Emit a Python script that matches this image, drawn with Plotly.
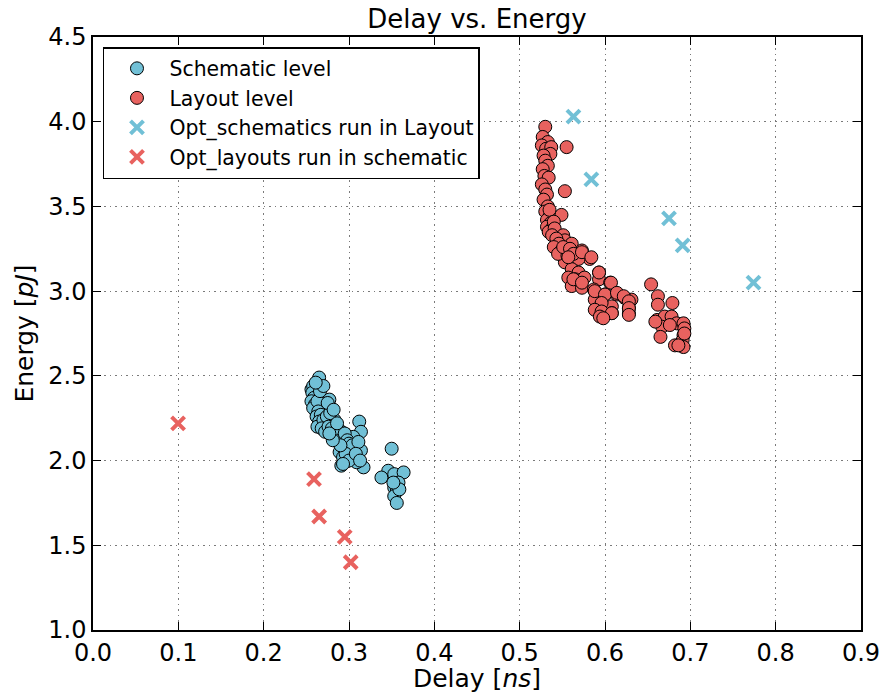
import plotly.graph_objects as go

# Schematic level (blue circles)
sch_x = [0.265, 0.256, 0.262, 0.277, 0.268, 0.273, 0.262, 0.283, 0.312, 0.271, 0.291, 0.314, 0.279,
         0.305, 0.287, 0.309, 0.297, 0.314, 0.289, 0.303, 0.307, 0.293, 0.317, 0.291, 0.309, 0.350,
         0.346, 0.338, 0.353, 0.364, 0.358, 0.353, 0.356, 0.353, 0.356, 0.359, 0.352,
         0.258, 0.257, 0.259, 0.256, 0.260, 0.258, 0.263, 0.266, 0.270, 0.261, 0.264, 0.262, 0.267,
         0.265, 0.263, 0.270, 0.274, 0.268, 0.272, 0.276, 0.280, 0.278, 0.275, 0.282, 0.284, 0.288,
         0.292, 0.295, 0.298, 0.300, 0.302, 0.304, 0.296, 0.300, 0.311, 0.308, 0.313, 0.286, 0.290,
         0.293, 0.281, 0.277]
sch_y = [2.49, 2.42, 2.39, 2.36, 2.32, 2.30, 2.28, 2.24, 2.23, 2.21, 2.17, 2.17, 2.15,
         2.14, 2.11, 2.09, 2.08, 2.06, 2.05, 2.02, 2.01, 2.02, 1.96, 1.97, 1.99, 2.07,
         1.94, 1.90, 1.92, 1.93, 1.87, 1.84, 1.82, 1.79, 1.75, 1.83, 1.87,
         2.44, 2.40, 2.37, 2.35, 2.33, 2.31, 2.35, 2.41, 2.44, 2.46, 2.29, 2.26, 2.27,
         2.23, 2.20, 2.24, 2.26, 2.19, 2.17, 2.20, 2.19, 2.28, 2.34, 2.30, 2.14, 2.18,
         2.13, 2.16, 2.12, 2.10, 2.06, 2.09, 2.04, 2.00, 2.11, 2.04, 2.00, 2.22, 2.09,
         1.98, 2.12, 2.16]

# Layout level (red circles)
lay_x = [0.530, 0.527, 0.533, 0.526, 0.531, 0.537, 0.536, 0.528, 0.530, 0.533, 0.527, 0.529, 0.534,
         0.526, 0.530, 0.532, 0.528, 0.533, 0.530, 0.535, 0.532, 0.536, 0.532, 0.538, 0.534,
         0.555, 0.553, 0.549,
         0.535, 0.540, 0.541, 0.551, 0.553, 0.561, 0.573, 0.582, 0.569, 0.553, 0.561, 0.569, 0.593,
         0.557, 0.565, 0.576, 0.593, 0.606, 0.561, 0.573, 0.587, 0.600, 0.614, 0.623, 0.588, 0.596,
         0.608, 0.631, 0.594, 0.608, 0.628, 0.628,
         0.538, 0.543, 0.546, 0.540, 0.549, 0.545, 0.556, 0.551, 0.559, 0.563,
         0.557, 0.573, 0.584, 0.593, 0.607, 0.563, 0.573, 0.588, 0.600, 0.614, 0.622, 0.628, 0.628,
         0.628, 0.596, 0.588, 0.596, 0.608, 0.594, 0.598,
         0.654, 0.662, 0.662, 0.679, 0.661, 0.670, 0.678, 0.684, 0.692, 0.693, 0.667, 0.665, 0.692,
         0.691, 0.682, 0.692, 0.686, 0.676, 0.659, 0.693]
lay_y = [3.97, 3.91, 3.88, 3.86, 3.84, 3.85, 3.81, 3.80, 3.77, 3.74, 3.72, 3.68, 3.67,
         3.63, 3.60, 3.57, 3.54, 3.50, 3.47, 3.44, 3.42, 3.40, 3.38, 3.37, 3.35,
         3.85, 3.59, 3.45,
         3.48, 3.41, 3.37, 3.33, 3.30, 3.28, 3.24, 3.19, 3.19, 3.17, 3.13, 3.11, 3.11,
         3.08, 3.07, 3.08, 3.07, 3.05, 3.03, 3.02, 3.01, 2.98, 2.98, 2.96, 2.95, 2.92,
         2.91, 2.95, 2.87, 2.87, 2.90, 2.87,
         3.33, 3.31, 3.28, 3.26, 3.24, 3.22, 3.21, 3.26, 3.25, 3.22,
         3.20, 3.23, 3.20, 3.11, 3.05, 3.07, 3.05, 3.00, 2.98, 2.99, 2.97, 2.94, 2.90,
         2.86, 2.93, 2.89, 2.88, 2.87, 2.85, 2.84,
         3.04, 2.97, 2.92, 2.93, 2.83, 2.85, 2.85, 2.81, 2.81, 2.78, 2.79, 2.73, 2.74,
         2.71, 2.68, 2.67, 2.68, 2.80, 2.82, 2.75]

# Opt_schematics run in Layout (blue crosses)
opt_sch_x = [0.563, 0.584, 0.675, 0.691, 0.774]
opt_sch_y = [4.03, 3.66, 3.43, 3.27, 3.05]

# Opt_layouts run in schematic (red crosses)
opt_lay_x = [0.0997, 0.259, 0.265, 0.295, 0.302]
opt_lay_y = [2.22, 1.89, 1.67, 1.55, 1.40]

x_ticks = [0.0, 0.1, 0.2, 0.3, 0.4, 0.5, 0.6, 0.7, 0.8, 0.9]
y_ticks = [1.0, 1.5, 2.0, 2.5, 3.0, 3.5, 4.0, 4.5]

BLUE = "#71c0d6"
RED = "#e8625f"

fig = go.Figure()
fig.add_trace(go.Scatter(x=sch_x, y=sch_y, mode="markers", name="Schematic level",
                         marker=dict(color=BLUE, size=13, line=dict(color="black", width=1))))
fig.add_trace(go.Scatter(x=lay_x, y=lay_y, mode="markers", name="Layout level",
                         marker=dict(color=RED, size=13, line=dict(color="black", width=1))))
fig.add_trace(go.Scatter(x=opt_sch_x, y=opt_sch_y, mode="markers", name="Opt_schematics run in Layout",
                         marker=dict(symbol="x-thin", color=BLUE, size=13, line=dict(color=BLUE, width=4))))
fig.add_trace(go.Scatter(x=opt_lay_x, y=opt_lay_y, mode="markers", name="Opt_layouts run in schematic",
                         marker=dict(symbol="x-thin", color=RED, size=13, line=dict(color=RED, width=4))))

axis_common = dict(showline=True, linecolor="black", linewidth=1.5, mirror="ticks",
                   ticks="inside", ticklen=8, tickwidth=1, tickcolor="black",
                   showgrid=True, gridcolor="#7a7a7a", griddash="1.5px,4px", gridwidth=1,
                   zeroline=False, tickfont=dict(size=24, color="black"), automargin=False)

W, H = 883, 693
fig.update_layout(
    width=W, height=H,
    paper_bgcolor="white", plot_bgcolor="white",
    font=dict(family="DejaVu Sans", color="black"),
    margin=dict(l=93, r=22, t=37, b=63),
    title=dict(text="Delay vs. Energy", x=0.5, xanchor="center", xref="paper",
               y=1 - 19/H, yanchor="middle", font=dict(size=26)),
    xaxis=dict(range=[0, 0.9], tickvals=x_ticks, ticktext=[f"{v:.1f}" for v in x_ticks],
               title=dict(text="Delay [<i>ns</i>]", font=dict(size=25), standoff=6), **axis_common),
    yaxis=dict(range=[1.0, 4.5], tickvals=y_ticks, ticktext=[f"{v:.1f}" for v in y_ticks],
               title=dict(text="Energy [<i>pJ</i>]", font=dict(size=25), standoff=8), **axis_common),
    legend=dict(x=0.013, y=0.983, xanchor="left", yanchor="top", bgcolor="white",
                bordercolor="black", borderwidth=1.5, font=dict(size=20.4), tracegroupgap=0,
                itemwidth=55),
    showlegend=True,
)

fig.write_html("out.html", config={"displayModeBar": False},
               post_script="document.body.style.margin='0';document.body.style.overflow='hidden';")
